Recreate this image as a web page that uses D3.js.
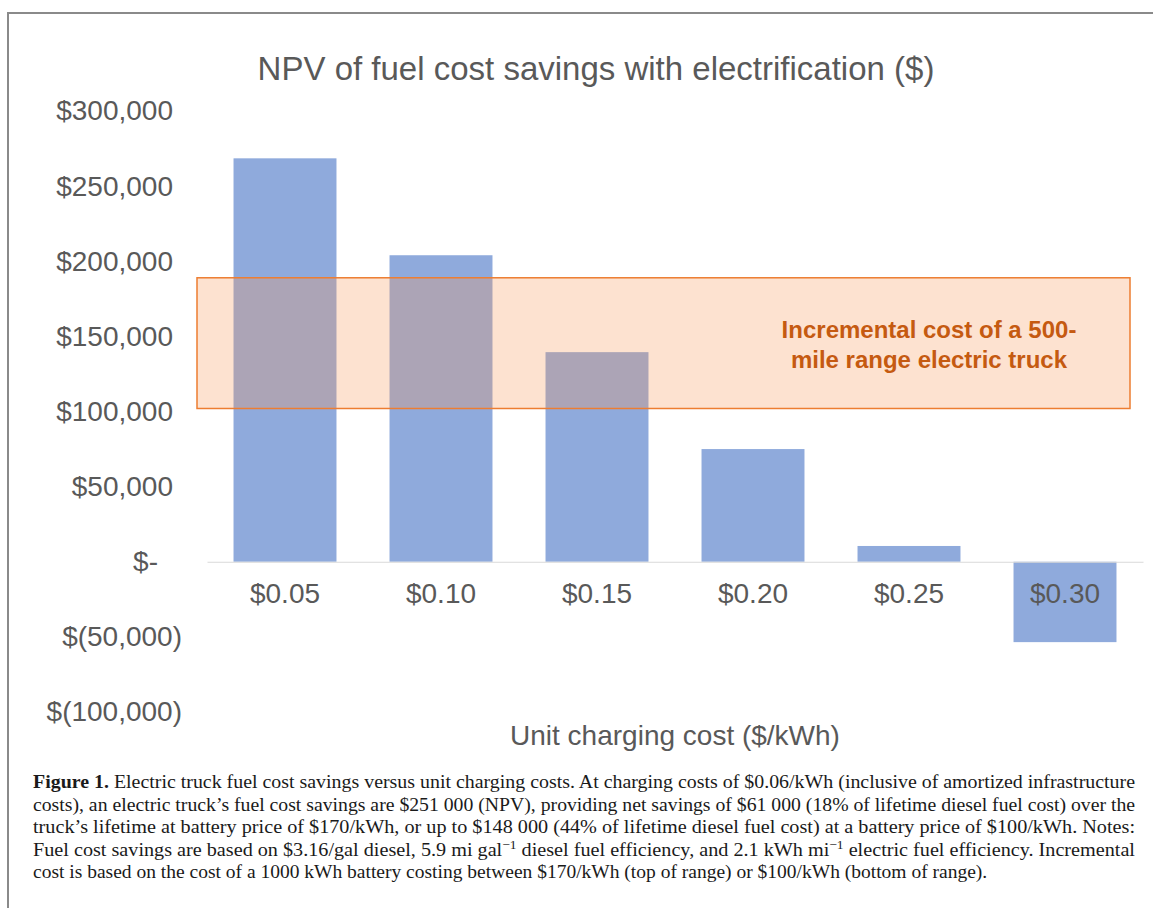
<!DOCTYPE html>
<html>
<head>
<meta charset="utf-8">
<script src="https://cdnjs.cloudflare.com/ajax/libs/d3/7.8.5/d3.min.js"></script>
<style>
body{margin:0;background:#fff;}
svg{display:block;}
</style>
</head>
<body>
<svg id="vis" width="1153" height="908"></svg>
<script>
//chart data
var categories = ["$0.05", "$0.10", "$0.15", "$0.20", "$0.25", "$0.30"];
var savings = [268500, 204000, 139500, 75000, 10500, -53500];
var yTicks = [-100000, -50000, 0, 50000, 100000, 150000, 200000, 250000, 300000];
var costRange = [102000, 189000];   //incremental cost band, bottom and top
var bandLabel = ["Incremental cost of a 500-", "mile range electric truck"];
var title = "NPV of fuel cost savings with electrification ($)";
var xTitle = "Unit charging cost ($/kWh)";

//caption, one entry per printed line
var captionLines = [
    [{t: "Figure 1.", b: 1}, {t: " Electric truck fuel cost savings versus unit charging costs. At charging costs of $0.06/kWh (inclusive of amortized infrastructure"}],
    [{t: "costs), an electric truck\u2019s fuel cost savings are $251 000 (NPV), providing net savings of $61 000 (18% of lifetime diesel fuel cost) over the"}],
    [{t: "truck\u2019s lifetime at battery price of $170/kWh, or up to $148 000 (44% of lifetime diesel fuel cost) at a battery price of $100/kWh. Notes:"}],
    [{t: "Fuel cost savings are based on $3.16/gal diesel, 5.9 mi gal"}, {t: "\u22121", sup: 1}, {t: " diesel fuel efficiency, and 2.1 kWh mi"}, {t: "\u22121", sup: 1}, {t: " electric fuel efficiency. Incremental"}],
    [{t: "cost is based on the cost of a 1000 kWh battery costing between $170/kWh (top of range) or $100/kWh (bottom of range)."}]
];

var data = categories.map(function (c, i) {
    return {cat: c, value: savings[i]};
});

var svg = d3.select('#vis');
var textColor = '#595959';
var sans = '"Liberation Sans", Arial, sans-serif';

//frame round the figure (top and left only show)
svg.append('line')
    .attr('x1', 8).attr('x2', 1153).attr('y1', 13).attr('y2', 13)
    .attr('stroke', '#8a8a8a').attr('stroke-width', 2);
svg.append('line')
    .attr('x1', 8).attr('x2', 8).attr('y1', 12).attr('y2', 908)
    .attr('stroke', '#8a8a8a').attr('stroke-width', 2);

var x = d3.scaleBand()
    .range([207, 1143])
    .paddingInner(0.34)
    .paddingOuter(0.17)
    .domain(categories);

var y = d3.scaleLinear()
    .domain([-100000, 300000])
    .range([712, 111]);

//title
svg.append('text')
    .attr('x', 596)
    .attr('y', 68)
    .attr('dy', '0.35em')
    .style('font-family', sans)
    .style('font-size', '33px')
    .attr('fill', textColor)
    .style('text-anchor', 'middle')
    .text(title);

//bars
svg.selectAll('.bar')
    .data(data)
    .enter()
    .append('rect')
    .attr('class', 'bar')
    .attr('x', function (d) { return x(d.cat); })
    .attr('y', function (d) { return y(Math.max(0, d.value)); })
    .attr('width', x.bandwidth())
    .attr('height', function (d) { return Math.abs(y(d.value) - y(0)); })
    .attr('fill', '#8faadc');

//incremental cost band, see-through so the bars show
var bandG = svg.append('g').attr('class', 'cost-band');

bandG.append('rect')
    .attr('x', x.range()[0] - 10)
    .attr('y', y(costRange[1]))
    .attr('width', (x.range()[1] - 13) - (x.range()[0] - 10))
    .attr('height', y(costRange[0]) - y(costRange[1]))
    .attr('fill', 'rgba(247,151,87,0.28)')
    .attr('stroke', '#ed7d31')
    .attr('stroke-width', 1.5);

var bandMid = y((costRange[0] + costRange[1]) / 2);
bandG.selectAll('.band-label')
    .data(bandLabel)
    .enter()
    .append('text')
    .attr('class', 'band-label')
    .attr('x', 929)
    .attr('y', function (d, i) { return bandMid - 14 + i * 30; })
    .attr('dy', '0.35em')
    .style('font-family', sans)
    .style('font-size', '24px')
    .style('font-weight', 'bold')
    .attr('fill', '#c55a11')
    .style('text-anchor', 'middle')
    .text(function (d) { return d; });

//y axis, accounting style labels
function money(v) {
    if (v == 0) return '$-';
    if (v < 0) return '$(' + d3.format(',')(-v) + ')';
    return '$' + d3.format(',')(v);
}

var yAxis = svg.append('g')
    .attr('class', 'axis axis--y')
    .attr('transform', 'translate(207,0)')
    .call(d3.axisLeft(y).tickValues(yTicks).tickFormat(money).tickSize(0).tickPadding(25));

yAxis.select('.domain').remove();
yAxis.selectAll('text')
    .style('font-family', sans)
    .style('font-size', '28px')
    .attr('fill', textColor)
    .attr('dx', function (d) {
        if (d == 0) return -24;
        if (d > 0) return -9;
        return 0;
    });

//x axis on the zero line
var xAxis = svg.append('g')
    .attr('class', 'axis axis--x')
    .attr('transform', 'translate(0,' + y(0) + ')')
    .call(d3.axisBottom(x).tickSize(0).tickSizeOuter(0).tickPadding(21));

xAxis.select('.domain')
    .attr('stroke', '#d9d9d9')
    .attr('stroke-width', 1.2);
xAxis.selectAll('text')
    .style('font-family', sans)
    .style('font-size', '28px')
    .attr('fill', textColor);

svg.append('text')
    .attr('x', (x.range()[0] + x.range()[1]) / 2)
    .attr('y', 735)
    .attr('dy', '0.35em')
    .style('font-family', sans)
    .style('font-size', '28px')
    .attr('fill', textColor)
    .style('text-anchor', 'middle')
    .text(xTitle);

//caption, justified lines except the last one
var capX = 33, capW = 1102, capTop = 788, capLead = 22.5;

captionLines.forEach(function (line, i) {
    var t = svg.append('text')
        .attr('x', capX)
        .attr('y', capTop + i * capLead)
        .style('font-family', '"Liberation Serif", "Times New Roman", serif')
        .style('font-size', '19.5px')
        .attr('fill', '#1a1a1a');
    if (i < captionLines.length - 1) {
        t.attr('textLength', capW).attr('lengthAdjust', 'spacingAndGlyphs');
    }
    var lifted = false;
    line.forEach(function (seg) {
        var s = t.append('tspan').text(seg.t);
        if (seg.b) s.style('font-weight', 'bold');
        if (seg.sup) {
            s.attr('dy', -7).style('font-size', '13px');
            lifted = true;
        } else if (lifted) {
            s.attr('dy', 7);
            lifted = false;
        }
    });
});
</script>
</body>
</html>
